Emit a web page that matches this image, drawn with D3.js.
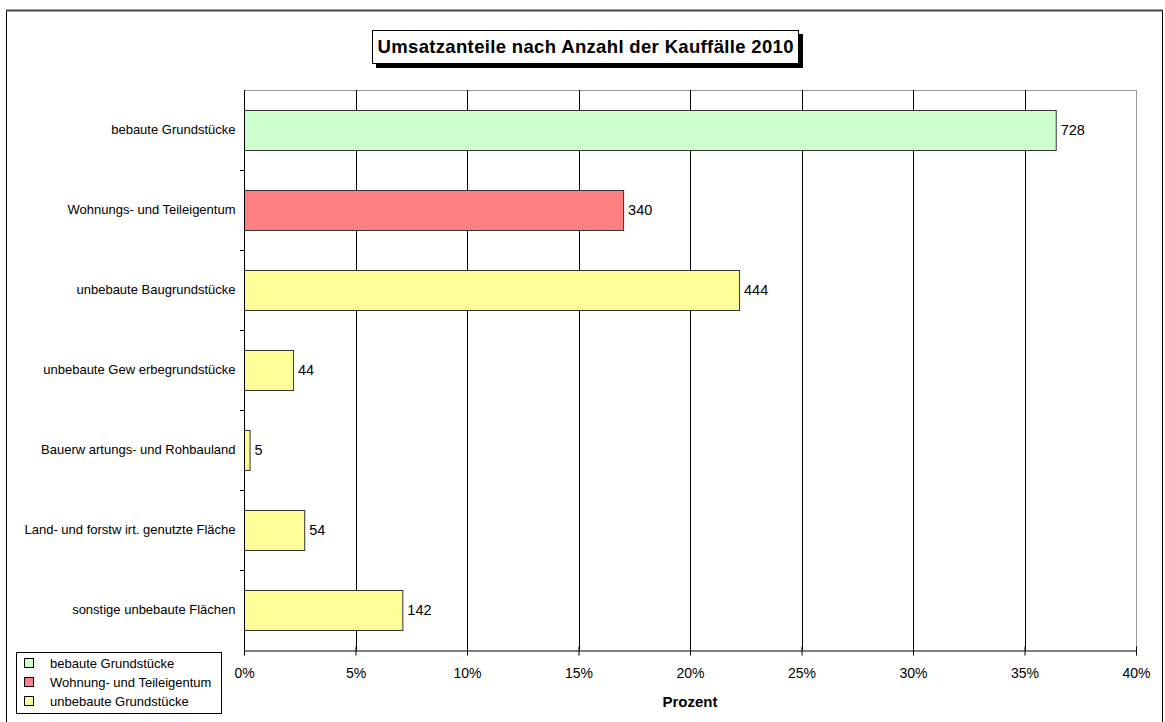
<!DOCTYPE html>
<html><head><meta charset="utf-8">
<script src="https://cdn.jsdelivr.net/npm/d3@7"></script>
<style>body{margin:0;background:#fff}svg{display:block;font-family:"Liberation Sans",Arial,sans-serif}</style>
</head><body><svg id="c" width="1165" height="722"></svg>
<script>
const categories = ["bebaute Grundstücke","Wohnungs- und Teileigentum","unbebaute Baugrundstücke","unbebaute Gew erbegrundstücke","Bauerw artungs- und Rohbauland","Land- und forstw irt. genutzte Fläche","sonstige unbebaute Flächen"];
const percents = [36.4, 17.0, 22.2, 2.2, 0.25, 2.7, 7.1];
const counts = [728, 340, 444, 44, 5, 54, 142];
const groups = ["bebaute Grundstücke","Wohnung- und Teileigentum","unbebaute Grundstücke"];
const groupOf = [0, 1, 2, 2, 2, 2, 2];
const groupColors = ["#ccffcc","#ff8080","#ffff99"];
const xTicks = [0,5,10,15,20,25,30,35,40];
const title = "Umsatzanteile nach Anzahl der Kauffälle 2010";
const xTitle = "Prozent";

const svg = d3.select("#c");
// outer frame
svg.append("rect").attr("x",6.5).attr("y",10.5).attr("width",1156).attr("height",712).attr("fill","#fff").attr("stroke","#000").attr("stroke-width",1);
svg.append("line").attr("x1",6).attr("x2",1163).attr("y1",10.5).attr("y2",10.5).attr("stroke","#444").attr("stroke-width",2);

const L=244, R=1136, T=90, B=650;
const x = d3.scaleLinear().domain([0,40]).range([L,R]);
const y = d3.scaleBand().domain(categories).range([T,B]).paddingInner(0.5).paddingOuter(0.25);

// plot border
svg.append("line").attr("x1",L).attr("x2",R).attr("y1",T+0.5).attr("y2",T+0.5).attr("stroke","#999");
svg.append("line").attr("x1",R+0.5).attr("x2",R+0.5).attr("y1",T).attr("y2",B).attr("stroke","#999");

// gridlines
svg.append("g").selectAll("line").data(xTicks.slice(1,-1)).join("line")
  .attr("x1",d=>Math.round(x(d))+0.5).attr("x2",d=>Math.round(x(d))+0.5).attr("y1",T).attr("y2",B)
  .attr("stroke","#000").attr("stroke-width",1);

// bars
svg.append("g").selectAll("rect").data(categories).join("rect")
  .attr("x",L+0.5).attr("y",d=>Math.round(y(d))+0.5)
  .attr("width",(d,i)=>x(percents[i])-L).attr("height",Math.round(y.bandwidth()))
  .attr("fill",(d,i)=>groupColors[groupOf[i]]).attr("stroke","#333").attr("stroke-width",1);

// value labels
svg.append("g").selectAll("text").data(categories).join("text")
  .attr("x",(d,i)=>x(percents[i])+5).attr("y",d=>y(d)+y.bandwidth()/2)
  .attr("dy","0.35em").attr("font-size",14.5).attr("fill","#000").text((d,i)=>counts[i]);

// x axis
const xa = svg.append("g").attr("transform",`translate(0,${B+0.5})`)
  .call(d3.axisBottom(x).tickValues(xTicks).tickFormat(d=>d+"%").tickSizeInner(5).tickSizeOuter(0).tickPadding(13));
xa.select(".domain").attr("stroke","#000");
xa.selectAll(".tick line").attr("y1",-4).attr("y2",5).attr("stroke","#000");
xa.selectAll("text").attr("font-size",14).attr("font-family","Liberation Sans, Arial, sans-serif").attr("fill","#000");

// y axis
const ya = svg.append("g").attr("transform",`translate(${L+0.5},0)`)
  .call(d3.axisLeft(y).tickSize(0).tickPadding(9));
ya.select(".domain").attr("stroke","#000").attr("d",`M0,${T}V${B}`);
ya.selectAll("text").attr("font-size",13).attr("font-family","Liberation Sans, Arial, sans-serif").attr("fill","#000");
// category separator ticks
const step = (B-T)/categories.length;
svg.append("g").selectAll("line").data(d3.range(1,categories.length)).join("line")
  .attr("x1",L-4).attr("x2",L).attr("y1",d=>Math.round(T+d*step)+0.5).attr("y2",d=>Math.round(T+d*step)+0.5).attr("stroke","#000");

svg.append("text").attr("x",(L+R)/2).attr("y",707).attr("text-anchor","middle")
  .attr("font-size",15).attr("font-weight","bold").text(xTitle);

// title box
svg.append("rect").attr("x",376).attr("y",34).attr("width",427).attr("height",34).attr("fill","#000");
svg.append("rect").attr("x",372.5).attr("y",30.5).attr("width",426).attr("height",33).attr("fill","#fff").attr("stroke","#000");
svg.append("text").attr("x",585.5).attr("y",52.5).attr("text-anchor","middle")
  .attr("font-size",18.5).attr("font-weight","bold")
  .attr("textLength",416).attr("lengthAdjust","spacing").text(title);

// legend
const lg = svg.append("g");
lg.append("rect").attr("x",16.5).attr("y",652.5).attr("width",205).attr("height",61).attr("fill","#fff").attr("stroke","#000");
groups.forEach((g,i)=>{
  const yy = 663 + i*19;
  lg.append("rect").attr("x",24.5).attr("y",yy-4.5).attr("width",9).attr("height",9).attr("fill",groupColors[i]).attr("stroke","#000");
  lg.append("text").attr("x",50).attr("y",yy).attr("dy","0.35em").attr("font-size",13).text(g);
});
</script></body></html>
